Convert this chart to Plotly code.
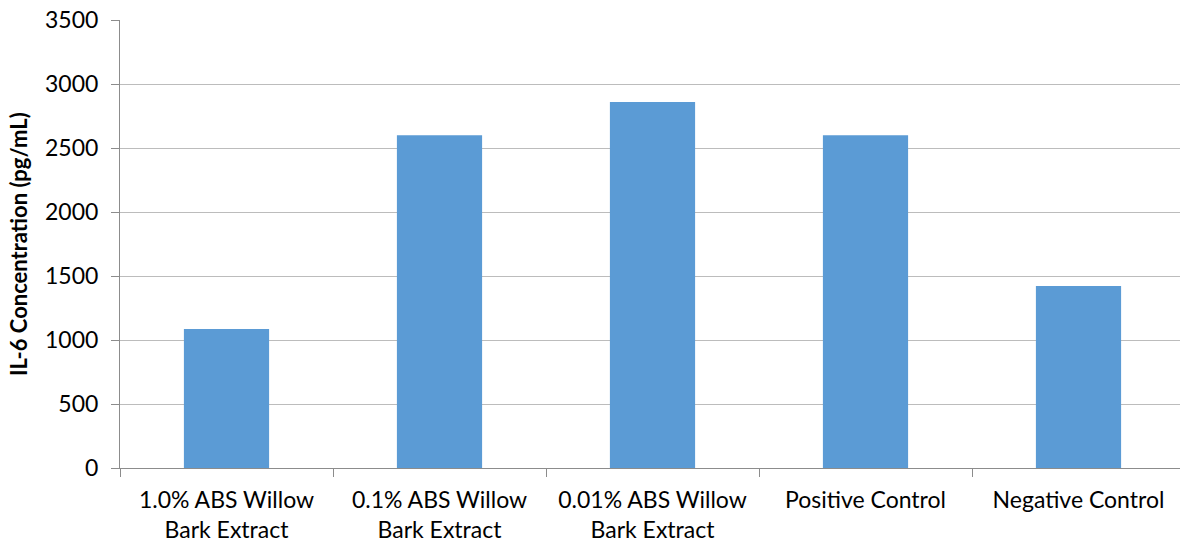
import plotly.graph_objects as go

categories = ["1.0% ABS Willow<br>Bark Extract", "0.1% ABS Willow<br>Bark Extract",
              "0.01% ABS Willow<br>Bark Extract", "Positive Control", "Negative Control"]
values = [1085, 2600, 2860, 2600, 1422]
y_ticks = [0, 500, 1000, 1500, 2000, 2500, 3000, 3500]
y_title = "IL-6 Concentration (pg/mL)"

FONT = "Lato, Open Sans, sans-serif"
L, R, T, B = 120, 0, 20, 78
W, H = 1185, 546

fig = go.Figure(go.Bar(x=categories, y=values, marker=dict(color="#5b9bd5", line=dict(width=0)),
                       width=0.4))
fig.update_layout(
    width=W, height=H,
    margin=dict(l=L, r=R, t=T, b=B, autoexpand=False),
    paper_bgcolor="white", plot_bgcolor="white",
    showlegend=False,
    font=dict(family=FONT, size=23, color="black"),
)
fig.update_xaxes(
    automargin=False,
    showline=True, linecolor="#8c8c8c", linewidth=1,
    ticks="outside", tickson="boundaries", ticklen=8, tickcolor="#8c8c8c",
    tickfont=dict(family=FONT, size=23, color="black"),
    ticklabelstandoff=11,
    showgrid=False,
)
fig.update_yaxes(
    automargin=False,
    range=[0, 3500], tickvals=y_ticks,
    showline=True, linecolor="#8c8c8c", linewidth=1,
    ticks="outside", ticklen=8, tickcolor="#8c8c8c",
    gridcolor="#bcbcbc", gridwidth=1,
    zeroline=False,
    tickfont=dict(family=FONT, size=23, color="black"),
    ticklabelstandoff=8,
)
plot_w = W - L - R
fig.add_annotation(
    text="<b>" + y_title + "</b>", textangle=-90,
    xref="paper", yref="paper", x=-(L - 18) / plot_w, y=0.5,
    xanchor="center", yanchor="middle", showarrow=False,
    font=dict(family=FONT, size=22, color="black"),
)
fig.write_html("out.html", config={"displayModeBar": False},
               post_script="document.body.style.margin='0';document.body.style.overflow='hidden';")
